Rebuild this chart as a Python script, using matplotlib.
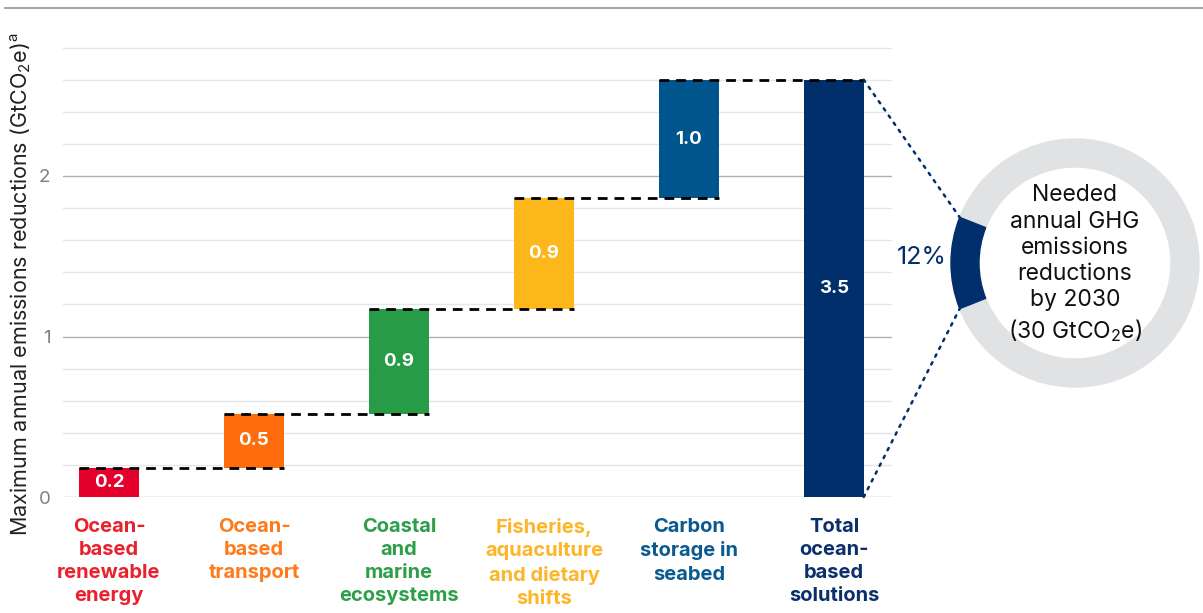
import matplotlib
matplotlib.use("Agg")
import matplotlib.pyplot as plt
from matplotlib.patches import Wedge, ConnectionPatch
from matplotlib.lines import Line2D
import numpy as np

plt.rcParams['font.family'] = ['Inter', 'DejaVu Sans']
plt.rcParams['mathtext.fontset'] = 'custom'
plt.rcParams['mathtext.rm'] = 'Inter'
plt.rcParams['mathtext.it'] = 'Inter'

# data (bar heights as drawn on the axis, labels as printed)
categories = ["Ocean-\nbased\nrenewable\nenergy", "Ocean-\nbased\ntransport",
              "Coastal\nand\nmarine\necosystems", "Fisheries,\naquaculture\nand dietary\nshifts",
              "Carbon\nstorage in\nseabed", "Total\nocean-\nbased\nsolutions"]
step_heights = [0.18, 0.34, 0.65, 0.69, 0.74]
value_labels = ["0.2", "0.5", "0.9", "0.9", "1.0", "3.5"]
bar_colors = ["#E4002B", "#FF6C0C", "#279B48", "#FDB71A", "#00558C", "#002F6C"]
text_colors = ["#E8212E", "#FF7A1A", "#2E9E4A", "#FDB52A", "#0B5A8F", "#0A2F6A"]
share_pct = 12
yticks = [0, 1, 2]

W, H = 1203, 613
fig = plt.figure(figsize=(W / 100, H / 100), dpi=100)

# main axes placed in pixel terms
y0_px, ytop_px = 497, 44.4
ax = fig.add_axes([63 / W, (H - y0_px) / H, (892 - 63) / W, (y0_px - ytop_px) / H])
ax.set_xlim(-0.317, 5.4)
ax.set_ylim(0, (y0_px - ytop_px) / 160.5)

bw = 0.41
bottoms = np.concatenate([[0], np.cumsum(step_heights)[:-1]])
total = sum(step_heights)
heights = list(step_heights) + [total]
bottoms = list(bottoms) + [0]
x = np.arange(len(categories))

ax.bar(x, heights, bottom=bottoms, width=bw, color=bar_colors, zorder=3)

tops = np.cumsum(step_heights)
for i in range(len(step_heights)):
    ax.plot([i - bw / 2, i + 1 + bw / 2], [tops[i], tops[i]], color="black",
            lw=2, dashes=(3.5, 2.5), zorder=4, solid_capstyle="butt")

for xi, b, h, lab in zip(x, bottoms, heights, value_labels):
    ax.text(xi, b + h / 2, lab, ha="center", va="center", color="white",
            fontsize=13.5, fontweight="bold", zorder=5)

for xi, cat, c in zip(x, categories, text_colors):
    ax.text(xi, -0.046, cat, transform=ax.get_xaxis_transform(), ha="center", va="top",
            color=c, fontsize=14.5, fontweight="bold", linespacing=1.37)

# grid
ax.set_yticks(yticks)
ax.set_yticks(np.arange(0.2, 2.81, 0.2), minor=True)
ax.grid(axis="y", which="minor", color="#e6e6e6", lw=1, zorder=0)
ax.grid(axis="y", which="major", color="#b0b0b0", lw=1, zorder=1)
ax.tick_params(axis="y", which="both", length=0, pad=9, labelsize=13.5, labelcolor="#808080")
ax.tick_params(axis="x", which="both", length=0, labelbottom=False)
for s in ax.spines.values():
    s.set_visible(False)

fig.text(21 / W, 1 - 284 / H, "Maximum annual emissions reductions (GtCO$_2$e)$^{a}$",
         rotation=90, ha="center", va="center", fontsize=15.5, color="#222222")

# top rule
fig.add_artist(Line2D([5 / W, 1], [1 - 8 / H, 1 - 8 / H], color="#a6a6a6", lw=1.5))

# donut
cx, cy, r_out, r_in = 1075, 263, 124, 96
axd = fig.add_axes([(cx - 140) / W, (H - cy - 140) / H, 280 / W, 280 / H])
axd.set_xlim(-140, 140)
axd.set_ylim(-140, 140)
axd.axis("off")
half = share_pct / 100 * 360 / 2
axd.add_patch(Wedge((0, 0), r_out, 180 + half, 180 - half, width=r_out - r_in, color="#e1e2e4"))
axd.add_patch(Wedge((0, 0), r_out, 180 - half, 180 + half, width=r_out - r_in, color="#002F6C"))
axd.text(0, -1, "Needed\nannual GHG\nemissions\nreductions\nby 2030\n(30 GtCO$_2$e)",
         ha="center", va="center", fontsize=16.5, color="#111111", linespacing=1.25)
axd.text(-153, 5, f"{share_pct}%", ha="center", va="center", fontsize=18, color="#002F6C")

for yy, ang in [(total, 180 - half), (0, 180 + half)]:
    px, py = r_out * np.cos(np.radians(ang)), r_out * np.sin(np.radians(ang))
    con = ConnectionPatch(xyA=(5 + bw / 2, yy), coordsA=ax.transData,
                          xyB=(px, py), coordsB=axd.transData,
                          color="#002F6C", lw=1.8, linestyle=(0, (1, 2.5)))
    fig.add_artist(con)

fig.savefig("out.png", dpi=100)
